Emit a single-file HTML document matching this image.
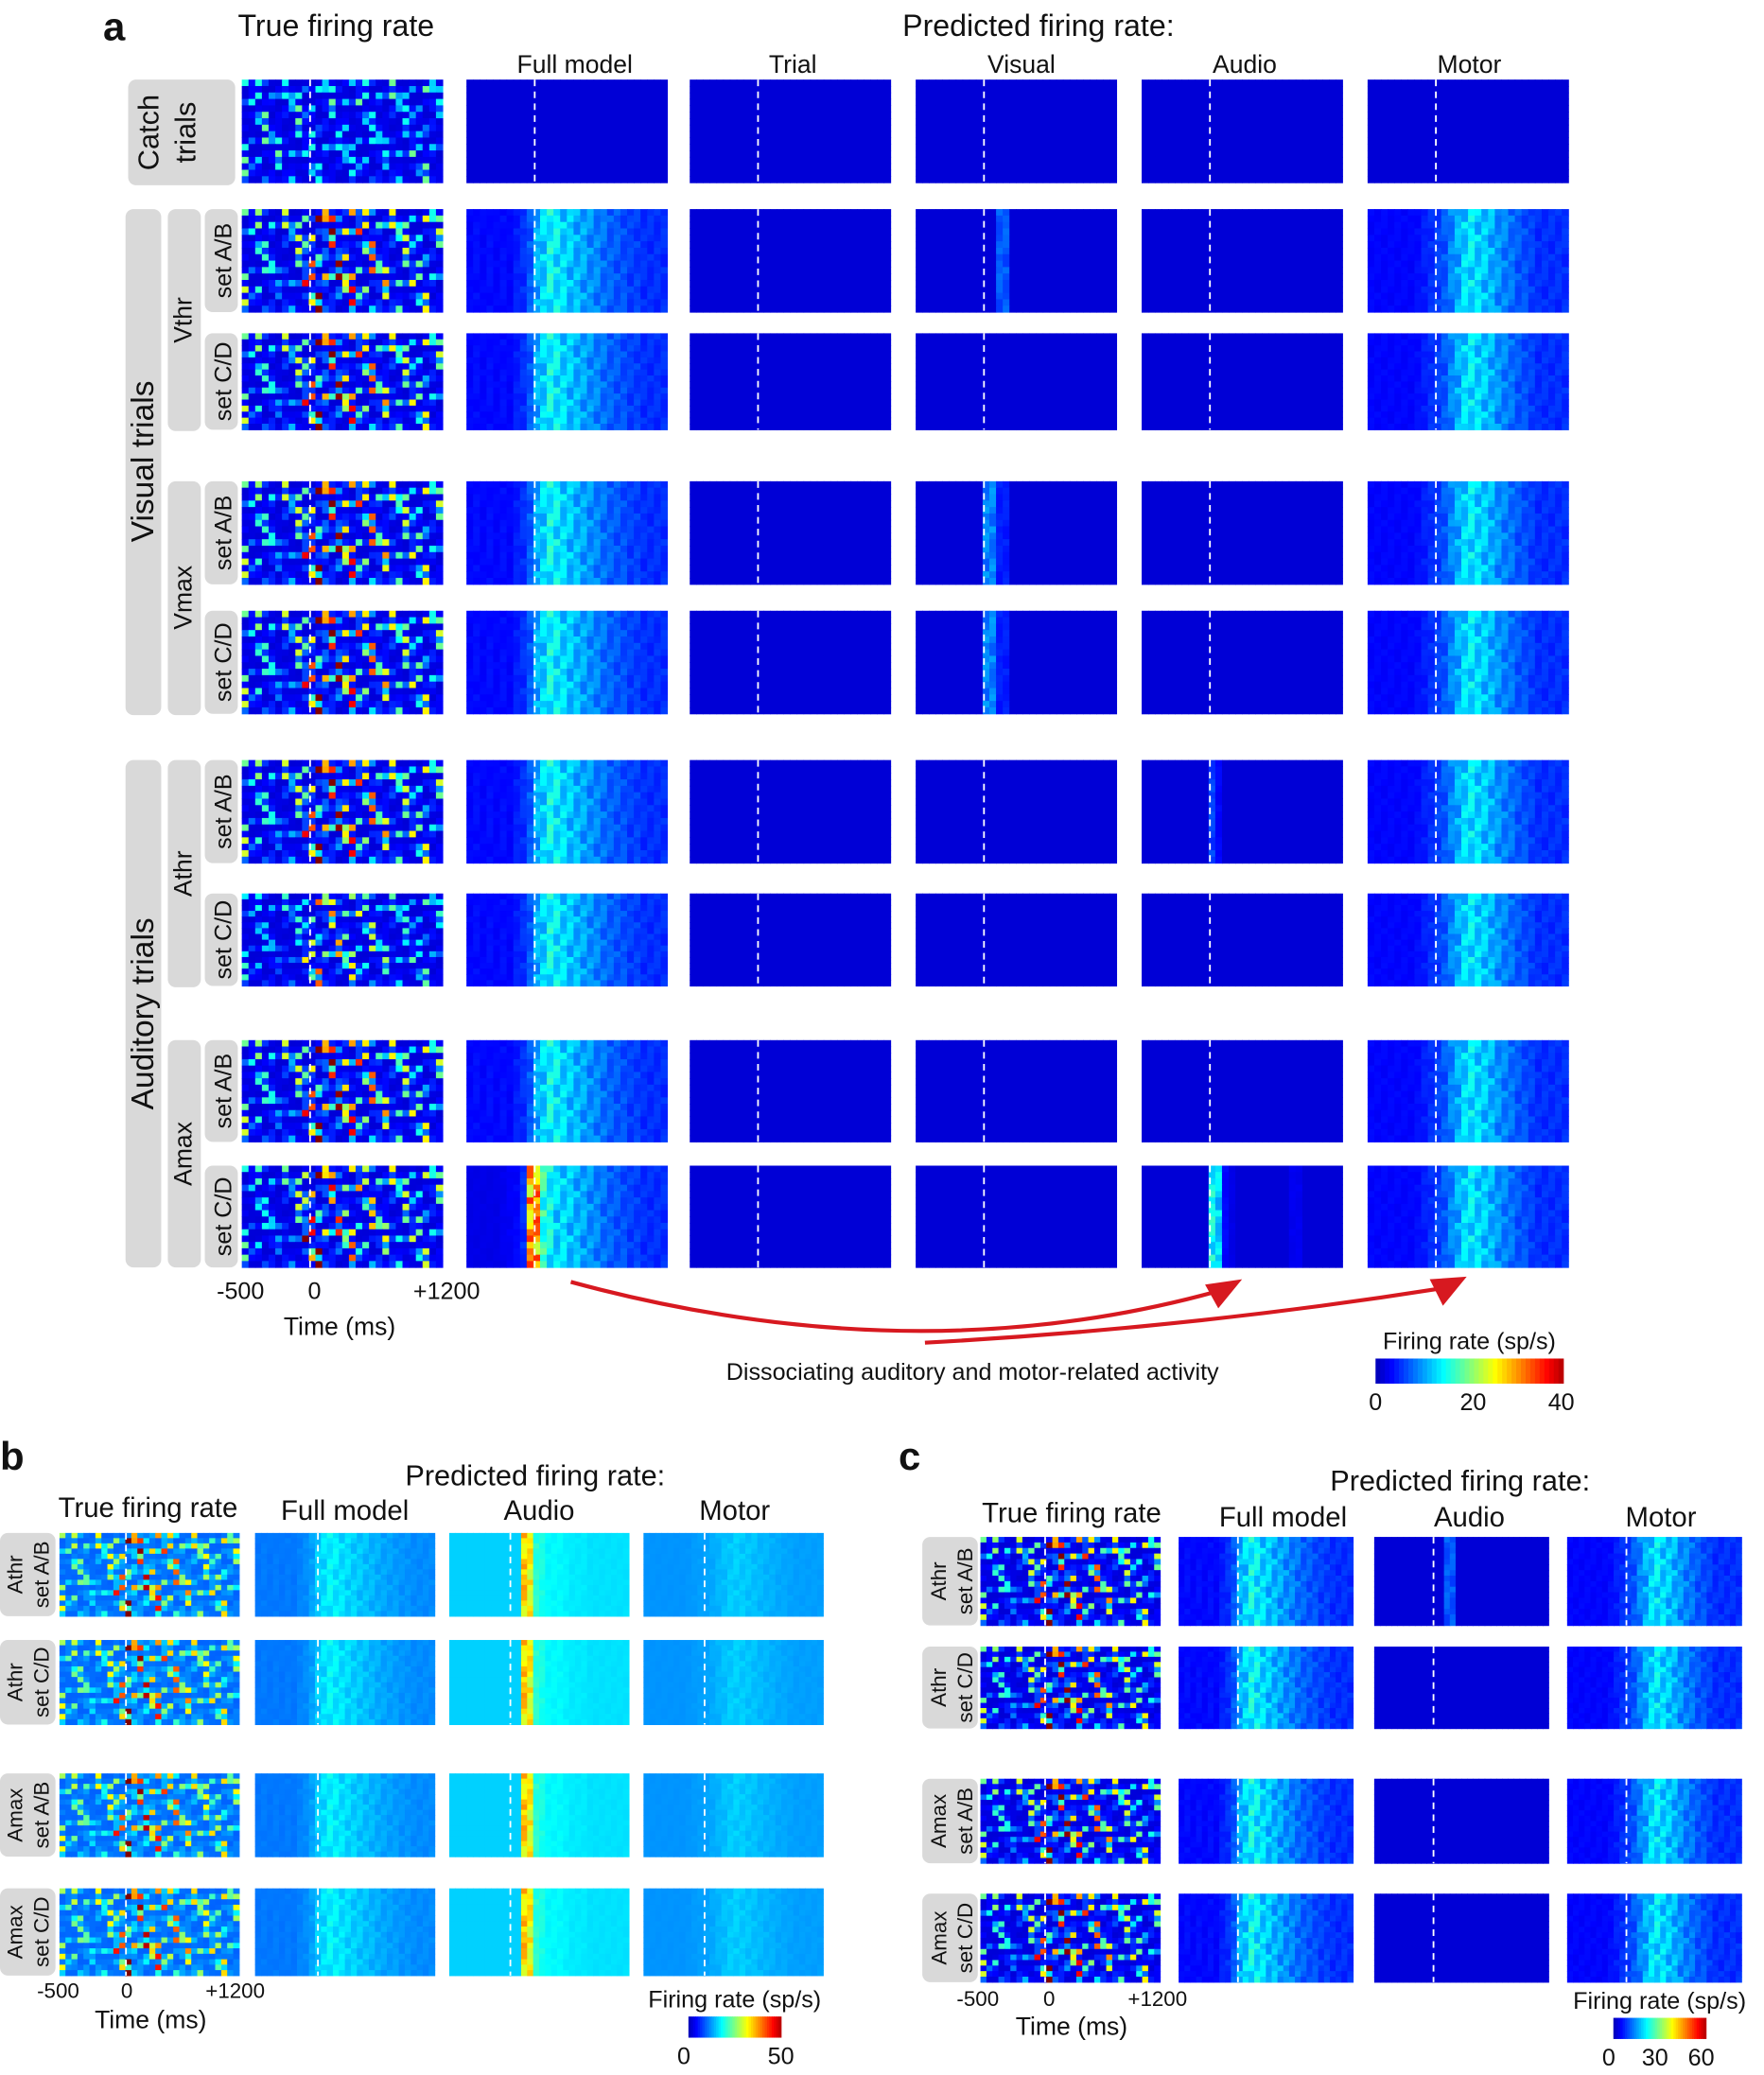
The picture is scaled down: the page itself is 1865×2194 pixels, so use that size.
<!DOCTYPE html>
<html><head><meta charset="utf-8">
<style>
html,body{margin:0;padding:0;background:#fff;}
svg{display:block;font-family:"Liberation Sans",Arial,sans-serif;}
</style></head>
<body>
<svg id="fig" width="1865" height="2194" viewBox="0 0 1335 1570" xmlns="http://www.w3.org/2000/svg">
<g id="heat"></g>
<g id="labels"></g>
</svg>
<script>
// ---------- data arrays ----------
const rowGain = [0.9,0.3,1.0,0.5,0.8,0.2,1.0,0.6,0.4,0.9,0.3,0.7,1.0,0.5,0.2,0.8];
const profTrue  = [0.5,0.3,0.55,0.35,0.5,0.2,0.5,0.35,0.5,0.8,0.9,1.0,1.0,0.95,0.9,0.9,0.8,0.75,0.7,0.7,0.6,0.65,0.55,0.6,0.5,0.55,0.5,0.55,0.5,0.5];
const profTrueC = [0.4,0.25,0.45,0.3,0.4,0.2,0.4,0.3,0.5,1.0,1.0,1.0,0.9,0.8,0.75,0.7,0.7,0.65,0.6,0.6,0.6,0.55,0.55,0.5,0.5,0.5,0.5,0.5,0.5,0.5];
const profFull  = [0.05,0.06,0.05,0.06,0.05,0.06,0.05,0.08,0.1,0.15,0.25,0.3,0.35,0.33,0.3,0.28,0.26,0.24,0.22,0.2,0.18,0.16,0.15,0.14,0.12,0.12,0.1,0.1,0.1,0.1];
const profFullC = [0.02,0.02,0.02,0.02,0.02,0.03,0.04,0.05,0.1,0.75,0.75,0.4,0.35,0.3,0.3,0.28,0.26,0.24,0.22,0.2,0.18,0.16,0.15,0.14,0.12,0.12,0.1,0.1,0.1,0.1];
const profMotor = [0.05,0.05,0.05,0.05,0.05,0.05,0.05,0.06,0.08,0.1,0.12,0.15,0.2,0.25,0.3,0.32,0.3,0.28,0.26,0.22,0.2,0.18,0.15,0.14,0.12,0.1,0.1,0.1,0.1,0.1];
const profFlat  = [0,0,0,0,0,0,0,0,0,0,0,0,0,0,0,0,0,0,0,0,0,0,0,0,0,0,0,0,0,0];
const profCatch = [0.4,0.3,0.4,0.4,0.3,0.4,0.3,0.4,0.4,0.3,0.4,0.3,0.4,0.4,0.3,0.4,0.3,0.4,0.4,0.3,0.4,0.3,0.4,0.4,0.3,0.4,0.3,0.4,0.4,0.3];
const profVis   = [0,0,0,0,0,0,0,0,0,0,0,0,0.15,0.15,0,0,0,0,0,0,0,0,0,0,0,0,0,0,0,0];
const profVisM  = [0,0,0,0,0,0,0,0,0,0,0.2,0.2,0.08,0.08,0,0,0,0,0,0,0,0,0,0,0,0,0,0,0,0];
const profAud   = [0,0,0,0,0,0,0,0,0,0,0.12,0.05,0,0,0,0,0,0,0,0,0,0,0,0,0,0,0,0,0,0];
const profAudC  = [0,0,0,0,0,0,0,0,0,0,0.35,0.3,0.05,0.02,0,0,0,0,0,0,0,0,0.03,0.03,0,0,0,0,0,0];
const profAudB  = [0,0,0,0,0,0,0,0,0,0,0,0,0.4,0.35,0.1,0.08,0.05,0.05,0.05,0.04,0.03,0.03,0.03,0.02,0.02,0.02,0.02,0.02,0.02,0.02];
const rowsA = ["catch","vthrAB","vthrCD","vmaxAB","vmaxCD","athrAB","athrCD","amaxAB","amaxCD"];

const svgNS="http://www.w3.org/2000/svg";
const heat=document.getElementById('heat'), lab=document.getElementById('labels');
function jet(x){x=Math.max(0,Math.min(1,x));const c=v=>Math.round(255*Math.max(0,Math.min(1,v)));
 return `rgb(${c(1.5-Math.abs(4*x-3))},${c(1.5-Math.abs(4*x-2))},${c(1.5-Math.abs(4*x-1))})`;}
function el(tag,attrs,parent){const e=document.createElementNS(svgNS,tag);for(const k in attrs)e.setAttribute(k,attrs[k]);parent.appendChild(e);return e;}
function panel(name,x,y,w,h,prof,base,scale,dashX,sparse){
 const g=el('g',{},heat);
 
 
 const nc=prof.length,nr=rowGain.length,cw=w/nc,ch=h/nr;
 for(let r=0;r<nr;r++)for(let t=0;t<nc;t++){
  let m;
  if(sparse){const a=rowGain[(r*5+t*3)%nr],b=rowGain[(r*3+t*7+2)%nr];m=Math.pow(a*b,2.2);}
  else m=0.55+0.45*rowGain[(r*7+t)%nr];
  const v=base+prof[t]*scale*m;
  el('rect',{x:x+t*cw,y:y+r*ch,width:cw+0.4,height:ch+0.4,fill:jet(v)},g);
 }
 const dx=x+w*(dashX||0.33);
 el('line',{x1:dx,y1:y,x2:dx,y2:y+h,stroke:'#fff','stroke-width':1.3,'stroke-dasharray':'5,4'},g);
}
function text(s,x,y,size,opts){const t=el('text',Object.assign({x:x,y:y,'font-size':size,fill:'#111'},opts||{}),lab);t.textContent=s;
 return t;}
function vtext(s,x,y,size){return text(s,x,y,size,{transform:`rotate(-90 ${x} ${y})`,'text-anchor':'middle'});}
function box(x,y,w,h){const r=el('rect',{x:x,y:y,width:w,height:h,rx:6,fill:'#d9d9d9'},lab);}

const B=0.085;
// ---------- panel a ----------
const colXa=[183,353,522,693,864,1035], wA=152;
const rowYa=[[60,78],[158,78],[252,73],[364,78],[462,78],[575,78],[676,70],[787,77],[882,77]];
rowsA.forEach((rn,i)=>{
 const [y,h]=rowYa[i];
 const isC = rn==="amaxCD";
 panel('true-'+rn,colXa[0],y,wA,h,isC?profTrueC:(rn==="catch"?profCatch:profTrue),B,rn==="athrCD"?0.7:1,0.34,true);
 panel('full-'+rn,colXa[1],y,wA,h,isC?profFullC:(rn==="catch"?profFlat:profFull),B,1,0.34);
 panel('trial-'+rn,colXa[2],y,wA,h,profFlat,B,1,0.34);
 panel('visual-'+rn,colXa[3],y,wA,h,rn.startsWith('vmax')?profVisM:(rn==="vthrAB"?profVis:profFlat),B,1,0.34);
 panel('audio-'+rn,colXa[4],y,wA,h,isC?profAudC:(rn==="athrAB"?profAud:profFlat),B,1,0.34);
 panel('motor-'+rn,colXa[5],y,wA,h,rn==="catch"?profFlat:profMotor,B,1,0.34);
});
// ---------- panel b ----------
const colXb=[45,193,340,487], wB=136;
const rowYb=[[1160,63],[1241,64],[1342,63],[1429,66]];
rowYb.forEach(([y,h],i)=>{
 panel('b-true-'+i,colXb[0],y,wB,h,profTrue,0.22,0.8,0.37,true);
 panel('b-full-'+i,colXb[1],y,wB,h,profFull,0.22,0.5,0.35);
 panel('b-audio-'+i,colXb[2],y,wB,h,profAudB,0.33,1,0.34);
 panel('b-motor-'+i,colXb[3],y,wB,h,profMotor,0.26,0.25,0.34);
});
// ---------- panel c ----------
const colXc=[742,892,1040,1186];
const rowYc=[[1163,67],[1246,62],[1346,64],[1433,67]];
rowYc.forEach(([y,h],i)=>{
 panel('c-true-'+i,colXc[0],y,136,h,profTrue,B,1,0.36,true);
 panel('c-full-'+i,colXc[1],y,132,h,profFull,B,1,0.34);
 panel('c-audio-'+i,colXc[2],y,132,h,i===0?profVis:profFlat,B,1,0.34);
 panel('c-motor-'+i,colXc[3],y,132,h,profMotor,B,1,0.34);
});

// ---------- labels a ----------
text('a',78,30,30,{'font-weight':'bold'});
text('True firing rate',180,27,23);
text('Predicted firing rate:',683,27,23);
[['Full model',435],['Trial',600],['Visual',773],['Audio',942],['Motor',1112]].forEach(([s,x])=>text(s,x,55,19,{'text-anchor':'middle'}));
box(97,60,81,80); vtext('Catch',120,100,22); vtext('trials',148,100,22);
box(95,158,27,383); vtext('Visual trials',116,349,24);
box(95,575,27,384); vtext('Auditory trials',116,767,24);
box(127,158,25,168); vtext('Vthr',145,242,19);
box(127,364,25,177); vtext('Vmax',145,452,19);
box(127,575,25,172); vtext('Athr',145,661,19);
box(127,787,25,172); vtext('Amax',145,873,19);
rowYa.slice(1).forEach(([y,h],i)=>{box(155,y,25,h);vtext(i%2===0?'set A/B':'set C/D',175,y+h/2,18);});
text('-500',182,983,18,{'text-anchor':'middle'});text('0',238,983,18,{'text-anchor':'middle'});text('+1200',338,983,18,{'text-anchor':'middle'});
text('Time (ms)',257,1010,19,{'text-anchor':'middle'});
text('Dissociating auditory and motor-related activity',736,1044,18,{'text-anchor':'middle'});
// arrows
const ar=el('g',{},lab);
el('path',{d:'M432,970 Q690,1040 918,978',fill:'none',stroke:'#d71920','stroke-width':3},ar);
el('path',{d:'M700,1016 Q900,1005 1090,975',fill:'none',stroke:'#d71920','stroke-width':3},ar);
el('polygon',{points:'940,968 912,972 922,990',fill:'#d71920'},ar);
el('polygon',{points:'1110,966 1082,968 1092,988',fill:'#d71920'},ar);
// colorbars
function cbar(name,x,y,w,h,title,ticks){
 const g=el('g',{},lab);
 for(let i=0;i<40;i++)el('rect',{x:x+i*w/40,y:y,width:w/40+0.5,height:h,fill:jet((i+0.5)/40*0.9+0.05)},g);
 text(title,x+w/2,y-7,18,{'text-anchor':'middle'});
 ticks.forEach(([s,f])=>text(s,x+f*w,y+h+20,18,{'text-anchor':'middle'}));
}
cbar('colorbar-a',1041,1028,142,19,'Firing rate (sp/s)',[['0',0],['20',0.52],['40',0.99]]);
// ---------- labels b ----------
text('b',0,1112,30,{'font-weight':'bold'});
text('Predicted firing rate:',405,1124,22,{'text-anchor':'middle'});
text('True firing rate',112,1148,21,{'text-anchor':'middle'});
[['Full model',261],['Audio',408],['Motor',556]].forEach(([s,x])=>text(s,x,1150,21,{'text-anchor':'middle'}));
[['Athr',1160,63],['Athr',1241,64],['Amax',1342,63],['Amax',1429,66]].forEach(([s,y,h],i)=>{box(0,y,42,h);vtext(s,17,y+h/2,16);vtext(i%2===0?'set A/B':'set C/D',37,y+h/2,16);});
text('-500',44,1512,16,{'text-anchor':'middle'});text('0',96,1512,16,{'text-anchor':'middle'});text('+1200',178,1512,16,{'text-anchor':'middle'});
text('Time (ms)',114,1535,19,{'text-anchor':'middle'});
cbar('colorbar-b',521,1526,70,16,'Firing rate (sp/s)',[['0',-0.05],['50',1.0]]);
// ---------- labels c ----------
text('c',680,1112,30,{'font-weight':'bold'});
text('Predicted firing rate:',1105,1128,22,{'text-anchor':'middle'});
text('True firing rate',811,1152,21,{'text-anchor':'middle'});
[['Full model',971],['Audio',1112],['Motor',1257]].forEach(([s,x])=>text(s,x,1155,21,{'text-anchor':'middle'}));
[['Athr',1163,67],['Athr',1246,62],['Amax',1346,64],['Amax',1433,67]].forEach(([s,y,h],i)=>{box(698,y,42,h);vtext(s,716,y+h/2,16);vtext(i%2===0?'set A/B':'set C/D',736,y+h/2,16);});
text('-500',740,1518,16,{'text-anchor':'middle'});text('0',794,1518,16,{'text-anchor':'middle'});text('+1200',876,1518,16,{'text-anchor':'middle'});
text('Time (ms)',811,1540,19,{'text-anchor':'middle'});
cbar('colorbar-c',1221,1527,70,16,'Firing rate (sp/s)',[['0',-0.05],['30',0.45],['60',0.95]]);
</script>
</body></html>
